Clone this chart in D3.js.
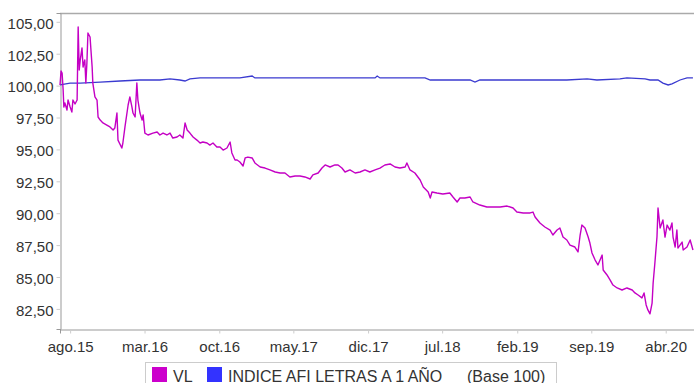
<!DOCTYPE html>
<html>
<head>
<meta charset="utf-8">
<script src="https://cdn.jsdelivr.net/npm/d3@7"></script>
<style>
  body { margin: 0; background: #fff; }
  svg { display: block; font-family: "Liberation Sans", Arial, sans-serif; }
</style>
</head>
<body>
<div id="chart"></div>
<script>
// VL (fund NAV, base 100)
const vlSeries = [
  ["2015-07-03",100.05],["2015-07-06",101.14],["2015-07-09",100.99],["2015-07-12",99.66],["2015-07-14",98.32],
  ["2015-07-17",98.64],["2015-07-23",98.09],["2015-07-26",98.87],["2015-08-01",98.32],["2015-08-06",97.93],
  ["2015-08-09",98.87],["2015-08-15",98.56],["2015-08-21",98.87],["2015-08-24",104.59],["2015-08-27",101.22],
  ["2015-08-30",102.01],["2015-09-04",102.95],["2015-09-07",101.46],["2015-09-12",102.01],["2015-09-15",100.20],
  ["2015-09-18",101.77],["2015-09-21",104.12],["2015-09-27",103.81],["2015-10-03",101.46],["2015-10-05",100.20],
  ["2015-10-11",99.11],["2015-10-17",98.87],["2015-10-20",97.54],["2015-10-26",97.30],["2015-11-03",97.07],
  ["2015-11-14",96.91],["2015-11-23",96.76],["2015-12-02",96.52],["2015-12-07",96.68],["2015-12-13",97.85],
  ["2015-12-16",95.73],["2015-12-27",95.11],["2015-12-30",95.50],["2016-01-05",96.76],["2016-01-14",98.48],
  ["2016-01-19",99.11],["2016-01-25",98.32],["2016-01-28",97.85],["2016-02-03",97.54],["2016-02-08",100.20],
  ["2016-02-11",98.87],["2016-02-17",97.85],["2016-02-23",97.30],["2016-02-26",97.70],["2016-03-02",96.28],
  ["2016-03-11",96.13],["2016-03-25",96.28],["2016-04-06",96.36],["2016-04-14",96.13],["2016-04-23",96.28],
  ["2016-05-04",96.13],["2016-05-13",96.28],["2016-05-21",95.89],["2016-06-02",95.97],["2016-06-10",96.13],
  ["2016-06-19",95.89],["2016-06-25",97.07],["2016-07-01",96.52],["2016-07-09",96.28],["2016-07-18",95.97],
  ["2016-07-29",95.73],["2016-08-07",95.50],["2016-08-15",95.58],["2016-08-27",95.50],["2016-09-04",95.34],
  ["2016-09-13",95.50],["2016-09-24",95.19],["2016-10-03",95.19],["2016-10-12",94.95],["2016-10-23",95.11],
  ["2016-11-01",95.58],["2016-11-06",94.72],["2016-11-15",94.17],["2016-11-21",94.17],["2016-11-29",94.01],
  ["2016-12-08",93.70],["2016-12-14",94.33],["2016-12-22",94.40],["2017-01-03",94.33],["2017-01-11",93.94],
  ["2017-01-26",93.62],["2017-02-09",93.54],["2017-02-23",93.39],["2017-03-10",93.23],["2017-03-24",93.15],
  ["2017-04-07",93.15],["2017-04-21",92.84],["2017-05-06",92.92],["2017-05-20",92.92],["2017-06-03",92.84],
  ["2017-06-18",92.68],["2017-06-26",93.00],["2017-07-11",93.15],["2017-07-22",93.54],["2017-07-31",93.78],
  ["2017-08-14",93.62],["2017-08-28",93.78],["2017-09-06",93.78],["2017-09-17",93.54],["2017-09-26",93.23],
  ["2017-10-10",93.39],["2017-10-25",93.15],["2017-11-08",93.23],["2017-11-22",93.39],["2017-12-06",93.23],
  ["2017-12-21",93.39],["2018-01-04",93.54],["2018-01-18",93.78],["2018-02-02",93.86],["2018-02-16",93.62],
  ["2018-03-02",93.54],["2018-03-17",93.62],["2018-03-22",93.94],["2018-03-31",93.39],["2018-04-14",93.15],
  ["2018-04-29",92.60],["2018-05-08",92.05],["2018-05-22",91.66],["2018-05-28",91.19],["2018-06-02",91.66],
  ["2018-06-16",91.58],["2018-07-03",91.50],["2018-07-23",91.58],["2018-08-01",91.27],["2018-08-13",90.88],
  ["2018-08-21",91.19],["2018-09-04",91.19],["2018-09-19",91.27],["2018-09-27",90.88],["2018-10-17",90.64],
  ["2018-11-06",90.49],["2018-11-24",90.49],["2018-12-14",90.49],["2019-01-03",90.56],["2019-01-20",90.41],
  ["2019-01-31",90.09],["2019-02-18",90.02],["2019-03-10",90.02],["2019-03-18",90.09],["2019-03-24",89.70],
  ["2019-04-07",89.23],["2019-04-21",88.92],["2019-05-06",88.68],["2019-05-14",88.29],["2019-05-26",88.68],
  ["2019-06-03",88.84],["2019-06-12",88.13],["2019-06-23",87.90],["2019-07-02",87.50],["2019-07-16",87.35],
  ["2019-07-25",86.96],["2019-07-31",88.29],["2019-08-05",89.07],["2019-08-14",88.84],["2019-08-23",88.13],
  ["2019-08-28",87.66],["2019-09-03",86.88],["2019-09-12",86.33],["2019-09-20",85.94],["2019-10-02",86.72],
  ["2019-10-05",85.55],["2019-10-16",85.16],["2019-10-25",84.76],["2019-11-02",84.37],["2019-11-14",84.14],
  ["2019-11-28",83.98],["2019-12-12",84.14],["2019-12-27",83.98],["2020-01-04",83.75],["2020-01-13",83.59],
  ["2020-01-24",83.36],["2020-01-30",83.75],["2020-02-05",82.81],["2020-02-10",82.42],["2020-02-16",82.11],
  ["2020-02-22",82.96],["2020-02-25",84.53],["2020-03-01",86.10],["2020-03-07",88.13],["2020-03-10",90.41],
  ["2020-03-16",88.84],["2020-03-24",89.47],["2020-03-30",88.13],["2020-04-05",89.07],["2020-04-13",88.68],
  ["2020-04-19",89.23],["2020-04-22",88.13],["2020-04-28",87.35],["2020-05-03",88.68],["2020-05-06",87.27],
  ["2020-05-18",87.74],["2020-05-21",87.12],["2020-06-01",87.35],["2020-06-10",87.90],["2020-06-18",87.12]
];

// INDICE AFI LETRAS A 1 AÑO (base 100)
const indexSeries = [
  ["2015-07-03",100.05],["2015-08-01",100.20],["2015-08-30",100.20],["2015-10-26",100.28],["2015-12-22",100.36],
  ["2016-02-17",100.44],["2016-04-14",100.44],["2016-05-13",100.52],["2016-06-10",100.44],["2016-06-25",100.36],
  ["2016-07-09",100.52],["2016-08-07",100.60],["2016-11-29",100.60],["2017-01-03",100.75],["2017-01-11",100.60],
  ["2017-12-21",100.60],["2017-12-27",100.75],["2018-01-04",100.60],["2018-05-13",100.60],["2018-05-28",100.44],
  ["2018-09-19",100.44],["2018-10-03",100.28],["2018-10-17",100.44],["2019-06-23",100.44],["2019-08-20",100.52],
  ["2019-09-17",100.44],["2019-11-22",100.52],["2019-12-12",100.60],["2020-02-02",100.52],["2020-02-16",100.44],
  ["2020-03-10",100.44],["2020-03-24",100.20],["2020-04-08",100.05],["2020-04-19",100.13],["2020-05-12",100.44],
  ["2020-06-01",100.60],["2020-06-18",100.60]
];

const xTicks = ["2015-08-01","2016-03-01","2016-10-01","2017-05-01","2017-12-01","2018-07-01","2019-02-01","2019-09-01","2020-04-01"];
const xTickLabels = ["ago.15","mar.16","oct.16","may.17","dic.17","jul.18","feb.19","sep.19","abr.20"];
const yTicks = [82.5, 85, 87.5, 90, 92.5, 95, 97.5, 100, 102.5, 105];

const seriesNames = ["VL", "INDICE AFI LETRAS A 1 AÑO"];
const seriesColors = ["#c400c4", "#3a3ad0"];
const swatchColors = ["#cc00cc", "#3333ff"];
const legendNote = "(Base 100)";

const width = 694, height = 383;
const parse = d3.timeParse("%Y-%m-%d");

const x = d3.scaleTime()
  .domain([parse("2015-07-03"), parse("2020-06-21")])
  .range([60, 694]);
const y = d3.scaleLinear()
  .domain([80.925, 105.69])
  .range([329, 13]);

const svg = d3.select("#chart").append("svg")
  .attr("width", width)
  .attr("height", height);

// top border of the plot
svg.append("line")
  .attr("x1", 60).attr("x2", width)
  .attr("y1", 13.5).attr("y2", 13.5)
  .attr("stroke", "#aaa").attr("stroke-width", 1.5);

const yAxis = svg.append("g")
  .attr("transform", "translate(60.5,0)")
  .call(d3.axisLeft(y)
    .tickValues(yTicks)
    .tickSize(4)
    .tickPadding(3)
    .tickFormat(d => d.toFixed(2).replace(".", ",")));

const xAxis = svg.append("g")
  .attr("transform", "translate(0,329.5)")
  .call(d3.axisBottom(x)
    .tickValues(xTicks.map(parse))
    .tickSize(4)
    .tickPadding(8)
    .tickFormat((d, i) => xTickLabels[i]));

[yAxis, xAxis].forEach(g => {
  g.select(".domain").attr("stroke", "#999");
  g.selectAll(".tick line").attr("stroke", "#ccc");
  g.selectAll(".tick text")
    .attr("fill", "#333")
    .style("font-size", "15px")
    .style("font-family", '"Liberation Sans", Arial, sans-serif');
});
yAxis.selectAll(".tick text").attr("dy", "0.42em");

const line = d3.line()
  .x(d => x(parse(d[0])))
  .y(d => y(d[1]));

svg.append("path")
  .datum(indexSeries)
  .attr("fill", "none")
  .attr("stroke", seriesColors[1])
  .attr("stroke-width", 1.3)
  .attr("d", line);

svg.append("path")
  .datum(vlSeries)
  .attr("fill", "none")
  .attr("stroke", seriesColors[0])
  .attr("stroke-width", 1.4)
  .attr("stroke-linejoin", "round")
  .attr("d", line);

// legend
const legend = svg.append("g");
legend.append("rect")
  .attr("x", 145.5).attr("y", 362.5)
  .attr("width", 411).attr("height", 30)
  .attr("fill", "#fff").attr("stroke", "#ccc");

const legendX = [152, 207];
seriesNames.forEach((name, i) => {
  legend.append("rect")
    .attr("x", legendX[i]).attr("y", 367)
    .attr("width", 15).attr("height", 15)
    .attr("fill", swatchColors[i]);
  legend.append("text")
    .attr("x", legendX[i] + 21).attr("y", 381.5)
    .attr("fill", "#333")
    .style("font-size", "16px")
    .text(name);
});
legend.append("text")
  .attr("x", 467).attr("y", 381.5)
  .attr("fill", "#333")
  .style("font-size", "16px")
  .text(legendNote);
</script>
</body>
</html>
